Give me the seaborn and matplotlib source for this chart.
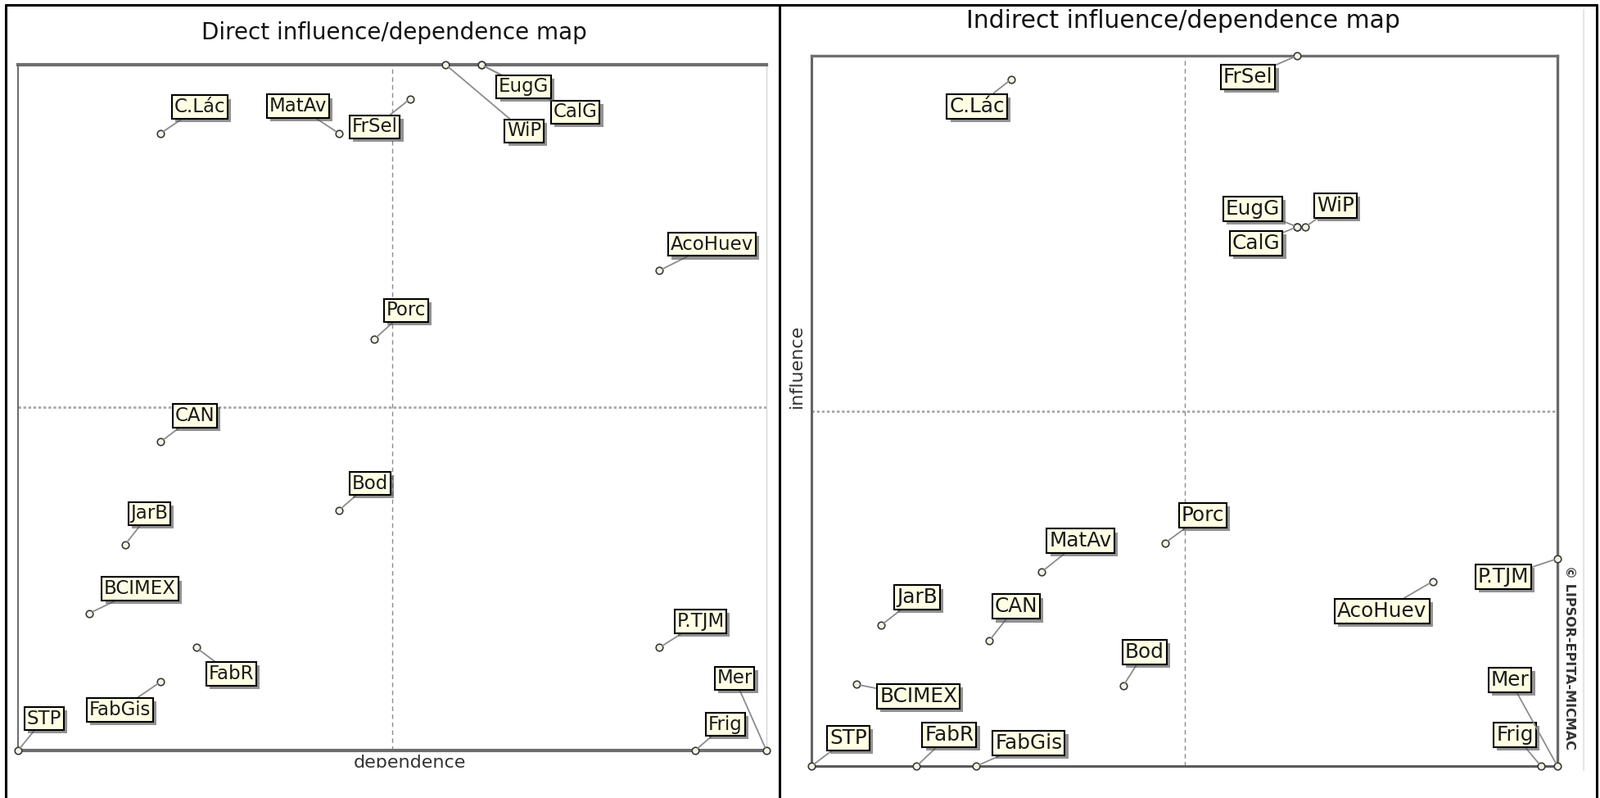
import matplotlib
matplotlib.use("Agg")
import matplotlib.pyplot as plt
import matplotlib.patheffects as pe
from matplotlib.lines import Line2D
from matplotlib.transforms import Bbox
import seaborn as sns
import pandas as pd

# variables of the structural analysis
names = ["STP", "FabGis", "FabR", "BCIMEX", "JarB", "CAN", "Bod", "C.Lác", "MatAv",
         "Porc", "FrSel", "CalG", "EugG", "WiP", "AcoHuev", "P.TJM", "Frig", "Mer"]

# direct matrix: dependence (x) / influence (y)
direct_dep = [3, 7, 8, 5, 6, 7, 12, 7, 12, 13, 14, 16, 16, 15, 21, 21, 22, 24]
direct_inf = [2, 4, 5, 6, 8, 11, 9, 20, 20, 14, 21, 22, 22, 22, 16, 5, 2, 2]

# indirect matrix: dependence (x) / influence (y)
indirect_dep = [1000, 1442, 1282, 1120, 1186, 1476, 1836, 1536, 1616, 1948,
                2302, 2302, 2302, 2324, 2666, 3000, 2956, 3000]
indirect_inf = [900, 900, 900, 1130, 1296, 1252, 1126, 2834, 1446, 1528,
                2900, 2418, 2418, 2418, 1420, 1484, 900, 900]

# label box offsets from each point, in pixels
direct_offsets = {
    "STP": (32, 39), "FabGis": (-50, -34), "FabR": (43, -32), "BCIMEX": (62, 30),
    "JarB": (30, 38), "CAN": (42, 32), "Bod": (38, 33), "C.Lác": (48, 32),
    "MatAv": (-50, 33), "Porc": (39, 35), "FrSel": (-43, -34), "CalG": (115, -58),
    "EugG": (52, -27), "WiP": (96, -81), "AcoHuev": (64, 32), "P.TJM": (50, 32),
    "Frig": (37, 32), "Mer": (-39, 88),
}
indirect_offsets = {
    "STP": (45, 34), "FabGis": (64, 28), "FabR": (40, 38), "BCIMEX": (76, -15),
    "JarB": (44, 34), "CAN": (33, 42), "Bod": (26, 41), "C.Lác": (-42, -33),
    "MatAv": (48, 38), "Porc": (46, 34), "FrSel": (-60, -26), "CalG": (-50, -20),
    "EugG": (-54, 22), "WiP": (37, 26), "AcoHuev": (-62, -36), "P.TJM": (-66, -22),
    "Frig": (-32, 38), "Mer": (-58, 105),
}

W, H = 1954, 974

sns.set_style("white")
plt.rcParams["font.family"] = ["DejaVu Sans"]

direct = pd.DataFrame({"name": names, "dep": direct_dep, "inf": direct_inf})
indirect = pd.DataFrame({"name": names, "dep": indirect_dep, "inf": indirect_inf})

fig = plt.figure(figsize=(W / 100, H / 100), dpi=100)
ax1 = fig.add_axes([22 / W, 1 - 916 / H, 914 / W, 837 / H])
ax2 = fig.add_axes([991 / W, 1 - 935 / H, 911 / W, 867 / H])


def draw_map(ax, df, offsets, fsize):
    x0, x1 = df["dep"].min(), df["dep"].max()
    y0, y1 = df["inf"].min(), df["inf"].max()
    ax.set_xlim(x0, x1)
    ax.set_ylim(y0, y1)
    ax.set_xticks([])
    ax.set_yticks([])
    ax.set_xlabel("")
    ax.set_ylabel("")

    ax.axvline((x0 + x1) / 2, color="#8a8a8a", lw=1.0, ls=(0, (4, 3)), zorder=1)
    ax.axhline((y0 + y1) / 2, color="#a8a8a8", lw=2.0, ls=(0, (1.2, 1.0)), zorder=1)

    sns.scatterplot(data=df, x="dep", y="inf", ax=ax, marker="o", s=38,
                    color="#f4f4e4", edgecolor="#3a3a3a", linewidth=1.2,
                    clip_on=False, zorder=4, legend=False)
    ax.set_xlabel("")
    ax.set_ylabel("")

    for i, row in df.iterrows():
        dx, dy = offsets[row["name"]]
        ann = ax.annotate(
            row["name"], xy=(row["dep"], row["inf"]), xytext=(dx, dy),
            textcoords="offset pixels", ha="center", va="center",
            fontsize=fsize, color="#1a1a1a", annotation_clip=False,
            bbox=dict(boxstyle="square,pad=0.12", fc="#ffffe4", ec="black", lw=1.5),
            arrowprops=dict(arrowstyle="-", color="#8c8c8c", lw=1.3,
                            shrinkA=0, shrinkB=3),
            zorder=6 + i,
        )
        ann.get_bbox_patch().set_path_effects(
            [pe.withSimplePatchShadow(offset=(3, -3), shadow_rgbFace="#4a4a4a", alpha=0.6)])


draw_map(ax1, direct, direct_offsets, 16.5)
draw_map(ax2, indirect, indirect_offsets, 17.8)

# frame styles of the two maps
for side, lw, col in [("top", 3.0, "#6e6e6e"), ("bottom", 3.0, "#6e6e6e"),
                      ("left", 1.2, "#505050"), ("right", 1.0, "#d6d6d6")]:
    ax1.spines[side].set_linewidth(lw)
    ax1.spines[side].set_color(col)
for side, lw, col in [("top", 2.4, "#707070"), ("bottom", 2.2, "#5a5a5a"),
                      ("left", 2.2, "#646464"), ("right", 2.4, "#6a6a6a")]:
    ax2.spines[side].set_linewidth(lw)
    ax2.spines[side].set_color(col)

# titles and axis texts
fig.text(481 / W, 1 - 40 / H, "Direct influence/dependence map",
         ha="center", va="center", fontsize=20, color="#111111")
fig.text(1445 / W, 1 - 25 / H, "Indirect influence/dependence map",
         ha="center", va="center", fontsize=21.5, color="#111111")

dep_txt = fig.text(500 / W, 1 - 921 / H, "dependence", ha="center", va="top",
                   fontsize=16, color="#333333")
dep_txt.set_clip_box(Bbox([[0, H - 937], [953, H]]))
dep_txt.set_clip_on(True)

fig.text(973 / W, 1 - 447 / H, "influence", rotation=90, ha="center", va="center",
         fontsize=16, color="#333333")
fig.text(1917 / W, 1 - 690 / H, "© LIPSOR-EPITA-MICMAC", rotation=270,
         ha="center", va="top", fontsize=11.5, fontweight="bold", color="#333333")

# outer frame of the screenshot
frame = [([7, 1950], [6, 6]), ([7, 7], [6, 974]), ([952, 952], [6, 974]),
         ([1950, 1950], [6, 974])]
for xs, ys in frame:
    fig.add_artist(Line2D([x / W for x in xs], [1 - y / H for y in ys],
                          transform=fig.transFigure, color="black", lw=2.2))
fig.add_artist(Line2D([1934 / W, 1934 / W], [1 - 12 / H, 1 - 940 / H],
                      transform=fig.transFigure, color="#e6e6e6", lw=1.5))

fig.savefig("out.png", dpi=100, facecolor="white")
